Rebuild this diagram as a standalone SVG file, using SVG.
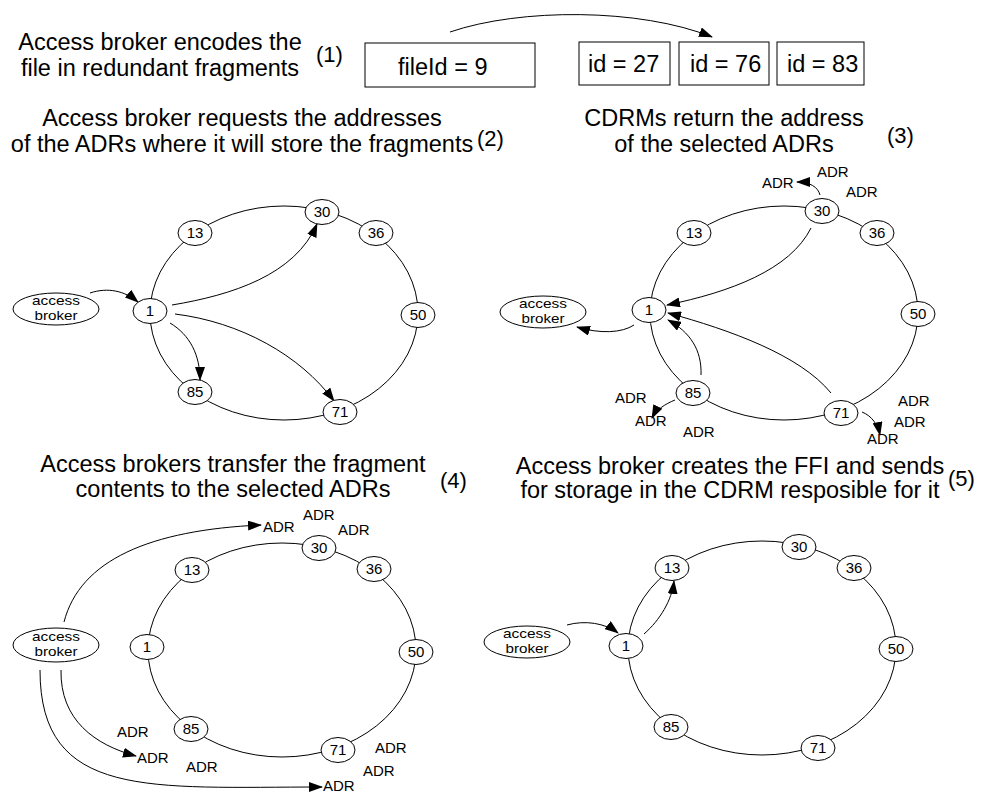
<svg xmlns="http://www.w3.org/2000/svg" width="992" height="793" viewBox="0 0 992 793">
<defs>
<style>
text{font-family:"Liberation Sans",Arial,sans-serif;fill:#000}
.title{font-size:23.5px;text-anchor:middle}
.step{font-size:22px}
.ring{fill:none;stroke:#000;stroke-width:1}
.node ellipse{fill:#fff;stroke:#000;stroke-width:1}
.node text{font-size:15px;text-anchor:middle}
.node text.bk{font-size:13.5px}
.box rect{fill:#fff;stroke:#000;stroke-width:1}
.box text{font-size:23.5px}
.edge{fill:none;stroke:#000;stroke-width:1;marker-end:url(#ah)}
.adr{font-size:15px}
</style>
<marker id="ah" markerWidth="14" markerHeight="10" refX="13" refY="5" orient="auto" markerUnits="userSpaceOnUse"><path d="M0,0 L14,5 L0,10 z" fill="#000"/></marker>
</defs>
<rect width="992" height="793" fill="#fff"/>

<!-- Titles -->
<g id="titles">
<text class="title" x="160" y="50">Access broker encodes the</text>
<text class="title" x="160" y="76">file in redundant fragments</text>
<text class="step" x="316" y="62">(1)</text>
<text class="title" x="242" y="126">Access broker requests the addresses</text>
<text class="title" x="242" y="152">of the ADRs where it will store the fragments</text>
<text class="step" x="477" y="146">(2)</text>
<text class="title" x="724" y="126">CDRMs return the address</text>
<text class="title" x="724" y="152">of the selected ADRs</text>
<text class="step" x="887" y="143">(3)</text>
<text class="title" x="233" y="472">Access brokers transfer the fragment</text>
<text class="title" x="233" y="497">contents to the selected ADRs</text>
<text class="step" x="440" y="488">(4)</text>
<text class="title" x="730" y="474">Access broker creates the FFI and sends</text>
<text class="title" x="730" y="498">for storage in the CDRM resposible for it</text>
<text class="step" x="948" y="486">(5)</text>
</g>

<!-- Step 1 boxes -->
<g id="file" class="box"><rect x="365" y="43" width="170" height="44"/><text x="398" y="75">fileId = 9</text></g>
<g id="frag27" class="box"><rect x="579" y="42" width="91" height="43"/><text x="588" y="72">id = 27</text></g>
<g id="frag76" class="box"><rect x="679" y="42" width="90" height="43"/><text x="690" y="72">id = 76</text></g>
<g id="frag83" class="box"><rect x="777" y="42" width="87" height="43"/><text x="787" y="72">id = 83</text></g>

<!-- Rings -->
<g id="rings">
<ellipse class="ring" cx="284" cy="313" rx="134" ry="107"/>
<ellipse class="ring" cx="784" cy="313" rx="134" ry="107"/>
<ellipse class="ring" cx="282" cy="650" rx="134" ry="107"/>
<ellipse class="ring" cx="762" cy="648" rx="134" ry="107"/>
</g>

<!-- Connectors -->
<g id="connectors">
<path class="edge" d="M450,32 C520,8 640,8 712,37"/>
<!-- panel 2 -->
<path class="edge" d="M90,293 C108,287 125,291 138,302"/>
<path class="edge" d="M172,305 C232,295 295,275 317,224"/>
<path class="edge" d="M170,323 C190,335 200,355 200,380"/>
<path class="edge" d="M175,314 C240,322 300,355 334,401"/>
<!-- panel 3 -->
<path class="edge" d="M634,325 C622,333 600,334 577,327"/>
<path class="edge" d="M811,228 C790,270 730,292 667,305"/>
<path class="edge" d="M701,375 C702,350 690,332 668,320"/>
<path class="edge" d="M831,393 C800,355 730,330 668,313"/>
<path class="edge" d="M820,195 C818,187 810,182 797,182"/>
<path class="edge" d="M675,400 C665,404 656,410 652,418"/>
<path class="edge" d="M862,412 C872,416 878,425 880,435"/>
<!-- panel 4 -->
<path class="edge" d="M64,622 C80,560 150,530 261,525"/>
<path class="edge" d="M61,670 C60,720 95,745 136,756"/>
<path class="edge" d="M40,670 C40,800 150,787 322,787"/>
<!-- panel 5 -->
<path class="edge" d="M567,625 C585,620 605,623 618,633"/>
<path class="edge" d="M644,634 C660,620 672,600 674,581"/>
</g>

<!-- Panel 2 nodes -->
<g id="p2-broker" class="node"><ellipse cx="56" cy="309" rx="43" ry="16"/><text class="bk" x="56" y="304.5" textLength="48" lengthAdjust="spacingAndGlyphs">access</text><text class="bk" x="56" y="320" textLength="43" lengthAdjust="spacingAndGlyphs">broker</text></g>
<g id="p2-n1" class="node"><ellipse cx="150" cy="311" rx="17" ry="12.5"/><text x="150" y="316">1</text></g>
<g id="p2-n13" class="node"><ellipse cx="195" cy="233" rx="17" ry="12.5"/><text x="195" y="238">13</text></g>
<g id="p2-n30" class="node"><ellipse cx="322" cy="212" rx="17" ry="12.5"/><text x="322" y="217">30</text></g>
<g id="p2-n36" class="node"><ellipse cx="376" cy="233" rx="17" ry="12.5"/><text x="376" y="238">36</text></g>
<g id="p2-n50" class="node"><ellipse cx="418" cy="315" rx="17" ry="12.5"/><text x="418" y="320">50</text></g>
<g id="p2-n85" class="node"><ellipse cx="195" cy="392" rx="17" ry="12.5"/><text x="195" y="397">85</text></g>
<g id="p2-n71" class="node"><ellipse cx="340" cy="412" rx="17" ry="12.5"/><text x="340" y="417">71</text></g>

<!-- Panel 3 nodes -->
<g id="p3-broker" class="node"><ellipse cx="543" cy="312" rx="43" ry="16"/><text class="bk" x="543" y="307.5" textLength="48" lengthAdjust="spacingAndGlyphs">access</text><text class="bk" x="543" y="323" textLength="43" lengthAdjust="spacingAndGlyphs">broker</text></g>
<g id="p3-n1" class="node"><ellipse cx="649" cy="310" rx="17" ry="12.5"/><text x="649" y="315">1</text></g>
<g id="p3-n13" class="node"><ellipse cx="694" cy="233" rx="17" ry="12.5"/><text x="694" y="238">13</text></g>
<g id="p3-n30" class="node"><ellipse cx="822" cy="211" rx="17" ry="12.5"/><text x="822" y="216">30</text></g>
<g id="p3-n36" class="node"><ellipse cx="877" cy="233" rx="17" ry="12.5"/><text x="877" y="238">36</text></g>
<g id="p3-n50" class="node"><ellipse cx="918" cy="314" rx="17" ry="12.5"/><text x="918" y="319">50</text></g>
<g id="p3-n85" class="node"><ellipse cx="693" cy="393" rx="17" ry="12.5"/><text x="693" y="398">85</text></g>
<g id="p3-n71" class="node"><ellipse cx="841" cy="413" rx="17" ry="12.5"/><text x="841" y="418">71</text></g>
<g id="p3-adr">
<text class="adr" x="762" y="188">ADR</text>
<text class="adr" x="817" y="177">ADR</text>
<text class="adr" x="846" y="197">ADR</text>
<text class="adr" x="615" y="403">ADR</text>
<text class="adr" x="635" y="426">ADR</text>
<text class="adr" x="683" y="437">ADR</text>
<text class="adr" x="898" y="406">ADR</text>
<text class="adr" x="894" y="427">ADR</text>
<text class="adr" x="867" y="444">ADR</text>
</g>

<!-- Panel 4 nodes -->
<g id="p4-broker" class="node"><ellipse cx="56" cy="645" rx="43" ry="17"/><text class="bk" x="56" y="640.5" textLength="48" lengthAdjust="spacingAndGlyphs">access</text><text class="bk" x="56" y="656" textLength="43" lengthAdjust="spacingAndGlyphs">broker</text></g>
<g id="p4-n1" class="node"><ellipse cx="147" cy="647" rx="17" ry="12.5"/><text x="147" y="652">1</text></g>
<g id="p4-n13" class="node"><ellipse cx="192" cy="570" rx="17" ry="12.5"/><text x="192" y="575">13</text></g>
<g id="p4-n30" class="node"><ellipse cx="319" cy="548" rx="17" ry="12.5"/><text x="319" y="553">30</text></g>
<g id="p4-n36" class="node"><ellipse cx="374" cy="569" rx="17" ry="12.5"/><text x="374" y="574">36</text></g>
<g id="p4-n50" class="node"><ellipse cx="416" cy="652" rx="17" ry="12.5"/><text x="416" y="657">50</text></g>
<g id="p4-n85" class="node"><ellipse cx="191" cy="729" rx="17" ry="12.5"/><text x="191" y="734">85</text></g>
<g id="p4-n71" class="node"><ellipse cx="338" cy="750" rx="17" ry="12.5"/><text x="338" y="755">71</text></g>
<g id="p4-adr">
<text class="adr" x="263" y="532">ADR</text>
<text class="adr" x="303" y="520">ADR</text>
<text class="adr" x="338" y="535">ADR</text>
<text class="adr" x="117" y="737">ADR</text>
<text class="adr" x="137" y="763">ADR</text>
<text class="adr" x="186" y="772">ADR</text>
<text class="adr" x="375" y="753">ADR</text>
<text class="adr" x="363" y="776">ADR</text>
<text class="adr" x="323" y="791">ADR</text>
</g>

<!-- Panel 5 nodes -->
<g id="p5-broker" class="node"><ellipse cx="527" cy="642" rx="43" ry="16"/><text class="bk" x="527" y="637.5" textLength="48" lengthAdjust="spacingAndGlyphs">access</text><text class="bk" x="527" y="653" textLength="43" lengthAdjust="spacingAndGlyphs">broker</text></g>
<g id="p5-n1" class="node"><ellipse cx="626" cy="646" rx="17" ry="12.5"/><text x="626" y="651">1</text></g>
<g id="p5-n13" class="node"><ellipse cx="672" cy="568" rx="17" ry="12.5"/><text x="672" y="573">13</text></g>
<g id="p5-n30" class="node"><ellipse cx="799" cy="547" rx="17" ry="12.5"/><text x="799" y="552">30</text></g>
<g id="p5-n36" class="node"><ellipse cx="854" cy="568" rx="17" ry="12.5"/><text x="854" y="573">36</text></g>
<g id="p5-n50" class="node"><ellipse cx="896" cy="649" rx="17" ry="12.5"/><text x="896" y="654">50</text></g>
<g id="p5-n85" class="node"><ellipse cx="671" cy="727" rx="17" ry="12.5"/><text x="671" y="732">85</text></g>
<g id="p5-n71" class="node"><ellipse cx="818" cy="748" rx="17" ry="12.5"/><text x="818" y="753">71</text></g>
</svg>
